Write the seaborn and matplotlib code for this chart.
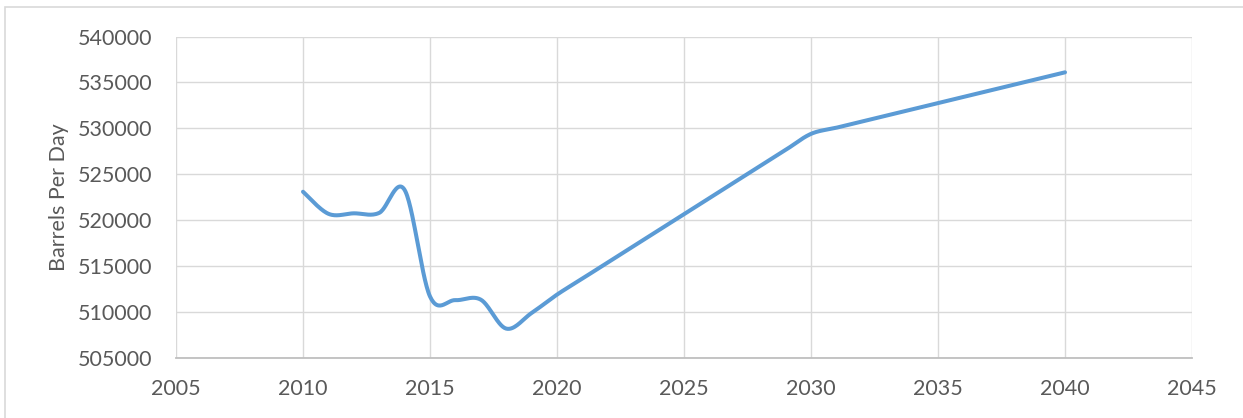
import numpy as np
import pandas as pd
import matplotlib
matplotlib.use("Agg")
import matplotlib.pyplot as plt
from matplotlib.patches import Rectangle
import seaborn as sns

years = [2010, 2011, 2012, 2013, 2014, 2015, 2016, 2017, 2018, 2019,
         2020, 2021, 2022, 2023, 2024, 2025, 2026, 2027, 2028, 2029,
         2030, 2031, 2032, 2033, 2034, 2035, 2036, 2037, 2038, 2039, 2040]
barrels = [523100, 520700, 520750, 520800, 523300, 511700, 511300, 511350, 508200, 509900,
           511900, 513650, 515400, 517150, 518900, 520650, 522400, 524150, 525900, 527650,
           529400, 530070, 530740, 531410, 532080, 532750, 533420, 534090, 534760, 535430, 536100]
x_ticks = [2005, 2010, 2015, 2020, 2025, 2030, 2035, 2040, 2045]
y_ticks = [505000, 510000, 515000, 520000, 525000, 530000, 535000, 540000]
y_label = "Barrels Per Day"


def excel_smooth(xs, ys, n=30):
    """Catmull-Rom style Bezier smoothing like Excel's smoothed line."""
    P = np.column_stack([xs, ys]).astype(float)
    m = len(P)
    out = []
    for i in range(m - 1):
        p0 = P[i - 1] if i > 0 else P[i]
        p1 = P[i]
        p2 = P[i + 1]
        p3 = P[i + 2] if i + 2 < m else P[i + 1]
        c1 = p1 + (p2 - p0) / 6.0
        c2 = p2 - (p3 - p1) / 6.0
        t = np.linspace(0, 1, n, endpoint=(i == m - 2))[:, None]
        seg = ((1 - t) ** 3) * p1 + 3 * ((1 - t) ** 2) * t * c1 + 3 * (1 - t) * t ** 2 * c2 + t ** 3 * p2
        out.append(seg)
    out = np.vstack(out)
    return out[:, 0], out[:, 1]


sns.set_theme(style="white")
plt.rcParams['font.family'] = ['Lato', 'DejaVu Sans']

W, H = 1243, 418
fig = plt.figure(figsize=(W / 100, H / 100), dpi=100)
ax = fig.add_axes([176 / W, 1 - 358 / H, (1192 - 176) / W, (358 - 36.5) / H])

sx, sy = excel_smooth(years, barrels)
df = pd.DataFrame({"Year": sx, "Barrels": sy})
sns.lineplot(data=df, x="Year", y="Barrels", sort=False, ax=ax,
             color="#5B9BD5", linewidth=2.9, solid_capstyle="round")

ax.set_xlim(2005, 2045)
ax.set_ylim(505000, 540000)
ax.set_xticks(x_ticks)
ax.set_yticks(y_ticks)
ax.set_xticklabels([str(v) for v in x_ticks])
ax.set_yticklabels([str(v) for v in y_ticks])
ax.grid(True, color="#D9D9D9", linewidth=1.0)
ax.set_axisbelow(True)
for s in ["top", "right", "left"]:
    ax.spines[s].set_visible(False)
ax.spines["bottom"].set_color("#BFBFBF")
ax.spines["bottom"].set_linewidth(1.3)
ax.tick_params(axis="both", length=0, labelsize=15.5, colors="#595959")
ax.tick_params(axis="y", pad=17)
ax.tick_params(axis="x", pad=15)
ax.set_xlabel("")
ax.set_ylabel(y_label, fontsize=15.5, color="#595959", labelpad=6.5)

fig.add_artist(Rectangle((5 / W, -0.1), 1.2, (H - 7) / H + 0.1, transform=fig.transFigure,
                         fill=False, edgecolor="#D9D9D9", linewidth=1.2))

fig.savefig("out.png", dpi=100)
